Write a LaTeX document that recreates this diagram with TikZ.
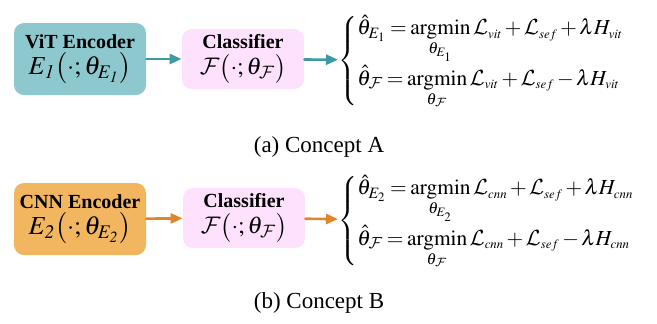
\documentclass[tikz,border=0pt]{standalone}
\usepackage{amsmath,amssymb}
\usepackage{mathptmx}
\DeclareMathAlphabet{\mathcal}{OMS}{cmsy}{m}{n}
\usepackage{fontspec}
\setmainfont{Liberation Serif}
\usepackage{tikz}
\usetikzlibrary{arrows.meta,positioning}
\definecolor{vitfill}{HTML}{8DC8CE}
\definecolor{vitline}{HTML}{3D9AA3}
\definecolor{cnnfill}{HTML}{F2B660}
\definecolor{cnnline}{HTML}{E0852A}
\definecolor{clsfill}{HTML}{FEE1FD}
\newcommand{\argmin}{\mathop{\mathrm{argmin}}\limits}
\newcommand{\tightops}{\medmuskip=2mu\relax\thickmuskip=3mu\relax\def\arraystretch{1}}
\newcommand{\sub}[1]{_{\scriptscriptstyle #1}}
\tikzset{
  encbox/.style={rounded corners=5pt, minimum width=66pt, minimum height=36pt, inner sep=1pt, align=center},
  clsbox/.style={rounded corners=5pt, fill=clsfill, minimum width=61pt, minimum height=30pt, inner sep=1pt, align=center},
  flow/.style={-{Triangle[length=6pt,width=5pt]}, line width=1.3pt},
  eqs/.style={anchor=west, inner sep=0pt, font=\fontsize{10.7}{13}\selectfont},
  capt/.style={font=\fontsize{11.5}{14}\selectfont},
  every picture/.style={line cap=round, line join=round}
}

\begin{document}
\begin{tikzpicture}[x=0.5pt, y=-0.5pt]
  \useasboundingbox (0,0) rectangle (657,323);

  % concept A
  \node[encbox, fill=vitfill] (vit) at (80,59)
    {\textbf{ViT Encoder}\\[1pt] \fontsize{13}{15}\selectfont $E_{\mathit{1}}\bigl(\cdot;\theta_{E_{\mathit{1}}}\bigr)$};
  \node[clsbox] (clsa) at (243,59)
    {\textbf{Classifier}\\[1pt] \fontsize{12}{14}\selectfont $\mathcal{F}\bigl(\cdot;\theta_{\mathcal{F}}\bigr)$};
  \node[eqs] (eqa) at (338,61) {$\tightops\begin{cases}
      \hat{\theta}_{E_1} = \argmin_{\theta_{E_1}} \mathcal{L}\sub{vit} + \mathcal{L}\sub{sef} + \lambda H\sub{vit} \\[6pt]
      \hat{\theta}_{\mathcal{F}} = \argmin_{\theta_{\mathcal{F}}} \mathcal{L}\sub{vit} + \mathcal{L}\sub{sef} - \lambda H\sub{vit}
    \end{cases}$};
  \draw[flow, vitline] (vit) -- (clsa);
  \draw[flow, vitline] (clsa) -- (eqa);
  \node[capt] (capa) at (319,147) {(a) Concept A};

  % concept B
  \node[encbox, fill=cnnfill] (cnn) at (80,219)
    {\textbf{CNN Encoder}\\[1pt] \fontsize{13}{15}\selectfont $E_{\mathit{2}}\bigl(\cdot;\theta_{E_{\mathit{2}}}\bigr)$};
  \node[clsbox] (clsb) at (244,218)
    {\textbf{Classifier}\\[1pt] \fontsize{12}{14}\selectfont $\mathcal{F}\bigl(\cdot;\theta_{\mathcal{F}}\bigr)$};
  \node[eqs] (eqb) at (338,221) {$\tightops\begin{cases}
      \hat{\theta}_{E_2} = \argmin_{\theta_{E_2}} \mathcal{L}\sub{cnn} + \mathcal{L}\sub{sef} + \lambda H\sub{cnn} \\[6pt]
      \hat{\theta}_{\mathcal{F}} = \argmin_{\theta_{\mathcal{F}}} \mathcal{L}\sub{cnn} + \mathcal{L}\sub{sef} - \lambda H\sub{cnn}
    \end{cases}$};
  \draw[flow, cnnline] (cnn) -- (clsb);
  \draw[flow, cnnline] (clsb) -- (eqb);
  \node[capt] (capb) at (319,303) {(b) Concept B};
\end{tikzpicture}
\end{document}
